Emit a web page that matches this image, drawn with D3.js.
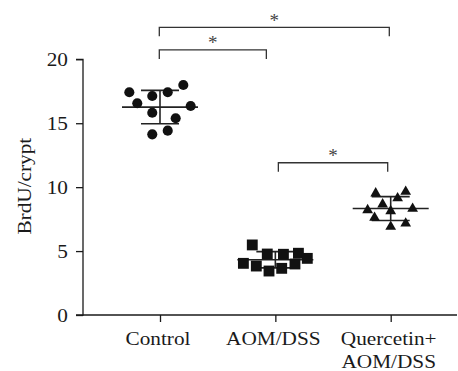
<!DOCTYPE html>
<html>
<head>
<meta charset="utf-8">
<script src="https://cdn.jsdelivr.net/npm/d3@7"></script>
<style>
  html, body { margin: 0; padding: 0; background: #fff; }
  svg { display: block; }
  text { font-family: "Liberation Serif", "Times New Roman", serif; fill: #1a1a1a; }
</style>
</head>
<body>
<svg id="chart" width="458" height="371"></svg>
<script>
// Groups and their label lines
const groups = ["Control", "AOM/DSS", "Quercetin+AOM/DSS"];
const groupLabels = [["Control"], ["AOM/DSS"], ["Quercetin+", "AOM/DSS"]];

// BrdU-positive cells per crypt, one value per animal
const controlValues   = [17.42, 16.56, 17.13, 17.42, 17.99, 16.35, 15.82, 15.39, 14.13, 14.42];
const aomDssValues    = [5.48, 4.77, 4.75, 4.83, 4.43, 4.04, 3.83, 3.44, 3.65, 3.99];
const quercetinValues = [9.52, 9.64, 9.13, 8.66, 8.21, 8.13, 8.31, 7.61, 7.17, 6.91];

// Horizontal spread of each dot, as a fraction of the group spacing
const controlSpread   = [-0.266, -0.197, -0.067, 0.067, 0.202, 0.266, -0.067, 0.136, -0.067, 0.067];
const aomDssSpread    = [-0.2, -0.07, 0.07, 0.2, 0.277, -0.277, -0.165, -0.055, 0.055, 0.17];
const quercetinSpread = [-0.13, 0.13, 0.06, -0.07, -0.2, 0.0, 0.19, -0.14, 0.13, 0.0];

const yTicks = [0, 5, 10, 15, 20];
const yLabel = "BrdU/crypt";

// Significance brackets: compared groups, bracket height in axis units, mark
const compareFrom  = ["Control", "Control", "AOM/DSS"];
const compareTo    = ["AOM/DSS", "Quercetin+AOM/DSS", "Quercetin+AOM/DSS"];
const compareLevel = [20.73, 22.5, 11.91];
const compareMark  = ["*", "*", "*"];

const seriesValues = [controlValues, aomDssValues, quercetinValues];
const seriesSpread = [controlSpread, aomDssSpread, quercetinSpread];
const symbols = [d3.symbolCircle, d3.symbolSquare, d3.symbolTriangle];
const symbolSizes = [80, 118, 50];

const svg = d3.select("#chart");
const axisLeftX = 83;
const axisRightX = 457;

const x = d3.scalePoint().domain(groups).range([160, 390.7]);
const step = x(groups[1]) - x(groups[0]);
const y = d3.scaleLinear().domain([0, 20]).range([315, 59.3]);

const fontSize = 19;
const widen = 1.12;   // the label face is set a little wider than the stock serif

function label(parent, px, py, anchor, lines, lineGap, rotate) {
  const g = parent.append("g")
    .attr("transform", `translate(${px},${py})${rotate ? " rotate(-90)" : ""} scale(${widen},1)`);
  const t = g.append("text")
    .attr("text-anchor", anchor)
    .style("font-size", fontSize + "px");
  lines.forEach((line, j) => {
    t.append("tspan").attr("x", 0).attr("dy", j === 0 ? 0 : lineGap).text(line);
  });
  return t;
}

// Y axis
const yAxis = d3.axisLeft(y).tickValues(yTicks).tickSize(7).tickFormat("");
const gy = svg.append("g").attr("transform", `translate(${axisLeftX},0)`).call(yAxis);
gy.select(".domain").attr("d", `M-7,${y(20)}H0V${y(0)}H-7`).attr("stroke", "#1a1a1a").attr("stroke-width", 1.3);
gy.selectAll(".tick line").attr("stroke", "#1a1a1a").attr("stroke-width", 1.3);
yTicks.forEach(v => {
  label(svg, axisLeftX - 15, y(v) + 6.5, "end", [String(v)], 0, false);
});

// X axis
const xAxis = d3.axisBottom(x).tickSize(7).tickFormat("");
const gx = svg.append("g").attr("transform", `translate(0,${y(0)})`).call(xAxis);
gx.select(".domain").attr("d", `M${axisLeftX},0H${axisRightX}`).attr("stroke", "#1a1a1a").attr("stroke-width", 1.3);
gx.selectAll(".tick line").attr("stroke", "#1a1a1a").attr("stroke-width", 1.3);

// Category labels (multi-line)
groups.forEach((g, i) => {
  label(svg, x(g) - 2, 345, "middle", groupLabels[i], 23.5, false);
});

// Y axis title
label(svg, 31, (y(0) + y(20)) / 2 - 1, "middle", [yLabel], 0, true);

// Mean ± SD whiskers
const meanHalf = 38, sdHalf = 19;
groups.forEach((g, i) => {
  const vals = seriesValues[i];
  const m = d3.mean(vals), sd = d3.deviation(vals);
  const cx = x(g);
  const wg = svg.append("g").attr("stroke", "#222").attr("stroke-width", 1.6);
  wg.append("line").attr("x1", cx - meanHalf).attr("x2", cx + meanHalf).attr("y1", y(m)).attr("y2", y(m));
  wg.append("line").attr("x1", cx - sdHalf).attr("x2", cx + sdHalf).attr("y1", y(m + sd)).attr("y2", y(m + sd));
  wg.append("line").attr("x1", cx - sdHalf).attr("x2", cx + sdHalf).attr("y1", y(m - sd)).attr("y2", y(m - sd));
  wg.append("line").attr("x1", cx).attr("x2", cx).attr("y1", y(m + sd)).attr("y2", y(m - sd));
});

// Individual data points
groups.forEach((g, i) => {
  const sym = d3.symbol().type(symbols[i]).size(symbolSizes[i]);
  svg.append("g").selectAll("path")
    .data(seriesValues[i])
    .join("path")
    .attr("d", sym)
    .attr("fill", "#111")
    .attr("transform", (v, k) => `translate(${x(g) + seriesSpread[i][k] * step},${y(v)})`);
});

// Significance brackets
const drop = 9;
const endInset = { "Control": [-0.7, -0.7], "AOM/DSS": [3, -9], "Quercetin+AOM/DSS": [0, -3] };
compareFrom.forEach((from, i) => {
  const to = compareTo[i];
  const x1 = x(from) + endInset[from][0];
  const x2 = x(to) + (i === 1 ? -1.4 : endInset[to][1]);
  const yy = y(compareLevel[i]);
  svg.append("path")
    .attr("d", `M${x1},${yy + drop}V${yy}H${x2}V${yy + drop}`)
    .attr("fill", "none")
    .attr("stroke", "#333")
    .attr("stroke-width", 1.3);
  svg.append("text")
    .attr("x", (x1 + x2) / 2)
    .attr("y", yy - 0.5)
    .attr("text-anchor", "middle")
    .style("font-size", "19px")
    .style("fill", "#444")
    .text(compareMark[i]);
});
</script>
</body>
</html>
